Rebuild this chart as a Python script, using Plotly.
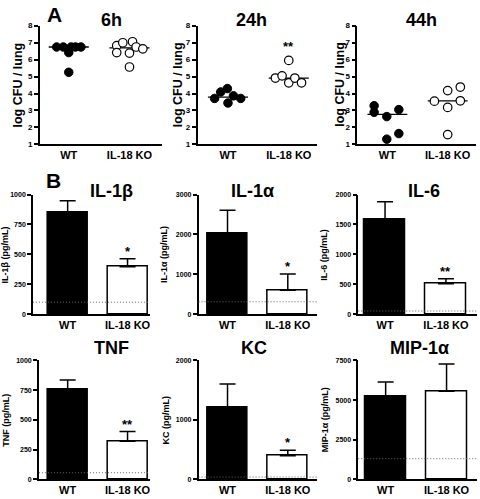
import numpy as np
import plotly.graph_objects as go

W, H = 480, 499
FONT = "Liberation Sans, Arial, sans-serif"

# ---------------- Data: Panel A (log CFU / lung) ----------------
groups = ["WT", "IL-18 KO"]
timepoints = ["6h", "24h", "44h"]

cfu_wt_6h = [6.74, 6.74, 6.74, 6.74, 6.74, 6.41, 5.25]
cfu_ko_6h = [6.82, 6.99, 7.05, 6.74, 6.63, 6.41, 6.38, 5.56]
cfu_wt_24h = [3.71, 4.09, 4.29, 3.44, 3.86, 3.71]
cfu_ko_24h = [4.91, 5.04, 4.63, 4.91, 4.63, 5.95]
cfu_wt_44h = [3.28, 2.89, 2.64, 3.05, 1.64, 1.31]
cfu_ko_44h = [3.55, 4.17, 4.38, 3.18, 3.57, 1.58]
sig_A = ["", "**", ""]

# horizontal scatter offsets (layout only)
jit_wt_6h = [-0.2, -0.09, 0.04, 0.11, 0.2, 0.0, 0.0]
jit_ko_6h = [-0.21, -0.11, 0.05, 0.11, 0.22, -0.21, 0.0, 0.0]
jit_wt_24h = [-0.22, -0.12, -0.01, 0.0, 0.09, 0.21]
jit_ko_24h = [-0.22, -0.11, 0.0, 0.1, 0.21, 0.0]
jit_wt_44h = [-0.22, -0.22, -0.01, 0.19, 0.19, -0.01]
jit_ko_44h = [-0.22, 0.0, 0.21, 0.0, 0.21, 0.0]

# ---------------- Data: Panel B (cytokines, pg/mL) ----------------
cytokines = ["IL-1β", "IL-1α", "IL-6", "TNF", "KC", "MIP-1α"]
ytitles = ["IL-1β (pg/mL)", "IL-1α (pg/mL)", "IL-6 (pg/mL)",
           "TNF (pg/mL)", "KC (pg/mL)", "MIP-1α (pg/mL)"]
mean_wt = [847, 2017, 1578, 755, 1209, 5254]
mean_ko = [397, 603, 510, 319, 396, 5563]
sem_wt = [101, 586, 301, 80, 395, 886]
sem_ko = [66, 405, 82, 82, 93, 1710]
detect_limit = [101, 314, 55, 55, 38, 1298]
sig_B = ["*", "*", "**", "**", "*", ""]
ymax_B = [1000, 3000, 2000, 1000, 2000, 7500]
tickvals_B = [[0, 250, 500, 750, 1000], [0, 1000, 2000, 3000],
              [0, 500, 1000, 1500, 2000], [0, 250, 500, 750, 1000],
              [0, 1000, 2000], [0, 2500, 5000, 7500]]

# ---------------- Layout geometry (pixels) ----------------
def px_x(a, b):
    return [a / W, b / W]

def px_y(top, bottom):
    return [1 - bottom / H, 1 - top / H]

A_dom_x = [px_x(40, 162), px_x(198, 318), px_x(358, 477)]
A_rng_x = [[0.525, 2.53], [0.5, 2.47], [0.5, 2.47]]
A_dom_y = px_y(22, 143)
A_title_x = [112, 252, 422]
A_ytitle_x = [18, 178, 340]

B_dom_x = [px_x(33, 150), px_x(199, 318), px_x(359, 478),
           px_x(39, 150), px_x(199, 318), px_x(359, 478)]
B_rng_x = [[0.42, 2.37], [0.52, 2.49], [0.56, 2.51],
           [0.52, 2.37], [0.52, 2.49], [0.55, 2.5]]
B_dom_y = [px_y(194, 316)] * 3 + [px_y(363, 484)] * 3
B_title_pos = [(112, 190), (253, 190), (425, 190), (112, 350), (255, 350), (420, 350)]
B_ytitle_x = [5, 165, 325, 6, 166, 326]

fig = go.Figure()
annotations = []
shapes = []

tickfont_small = dict(family=FONT, size=8, color="black", weight="bold")
xtickfont = dict(family=FONT, size=11, color="black", weight="bold")


def axis_common():
    return dict(showline=True, linecolor="black", linewidth=1.5,
                showgrid=False, zeroline=False, mirror=False)


def label(x, y, text, size, angle=0):
    return dict(x=x / W, y=1 - y / H, xref="paper", yref="paper", text=text,
                showarrow=False, xanchor="center", yanchor="middle", textangle=angle,
                font=dict(family=FONT, size=size, color="black", weight="bold"))


layout_axes = {}

# ---------------- Panel A ----------------
A_wt = [cfu_wt_6h, cfu_wt_24h, cfu_wt_44h]
A_ko = [cfu_ko_6h, cfu_ko_24h, cfu_ko_44h]
A_jwt = [jit_wt_6h, jit_wt_24h, jit_wt_44h]
A_jko = [jit_ko_6h, jit_ko_24h, jit_ko_44h]

for i in range(3):
    n = i + 1
    xa = "x" if n == 1 else f"x{n}"
    ya = "y" if n == 1 else f"y{n}"
    wt, ko = A_wt[i], A_ko[i]
    for gx, vals in ((1, wt), (2, ko)):
        m = float(np.median(vals))
        fig.add_trace(go.Scatter(x=[gx - 0.33, gx + 0.33], y=[m, m], mode="lines",
                                 line=dict(color="black", width=1.3),
                                 xaxis=xa, yaxis=ya, showlegend=False, hoverinfo="skip"))
    fig.add_trace(go.Scatter(x=[1 + j for j in A_jwt[i]], y=wt, mode="markers",
                             marker=dict(size=8.5, color="black",
                                         line=dict(color="black", width=1)),
                             xaxis=xa, yaxis=ya, showlegend=False, cliponaxis=False))
    fig.add_trace(go.Scatter(x=[2 + j for j in A_jko[i]], y=ko, mode="markers",
                             marker=dict(size=8.5, color="white",
                                         line=dict(color="black", width=1.2)),
                             xaxis=xa, yaxis=ya, showlegend=False, cliponaxis=False))
    xk = "xaxis" if n == 1 else f"xaxis{n}"
    yk = "yaxis" if n == 1 else f"yaxis{n}"
    layout_axes[xk] = dict(axis_common(), domain=A_dom_x[i], range=A_rng_x[i],
                           anchor=ya, tickvals=[1, 2], ticktext=groups,
                           ticks="", tickfont=xtickfont)
    layout_axes[yk] = dict(axis_common(), domain=A_dom_y, range=[1, 8],
                           anchor=xa, tickvals=list(range(1, 9)), ticks="outside",
                           ticklen=4, tickwidth=1.5, tickcolor="black",
                           tickfont=tickfont_small)
    annotations.append(label(A_title_x[i], 16, timepoints[i], 18))
    annotations.append(label(A_ytitle_x[i], 82, "log CFU / lung", 12.5, -90))
    if sig_A[i]:
        top = max(ko)
        annotations.append(dict(x=2, y=top + 0.25, xref=xa, yref=ya, text=sig_A[i],
                                showarrow=False, yanchor="bottom", xanchor="center",
                                font=dict(family=FONT, size=13, color="black", weight="bold")))

# ---------------- Panel B ----------------
for k in range(6):
    n = k + 4
    xa, ya = f"x{n}", f"y{n}"
    fig.add_trace(go.Bar(x=[1], y=[mean_wt[k]], width=0.67,
                         marker=dict(color="black", line=dict(color="black", width=1.5)),
                         error_y=dict(type="data", array=[sem_wt[k]], arrayminus=[0],
                                      symmetric=False, color="black", thickness=1.5, width=8),
                         xaxis=xa, yaxis=ya, showlegend=False))
    fig.add_trace(go.Bar(x=[2], y=[mean_ko[k]], width=0.67,
                         marker=dict(color="white", line=dict(color="black", width=1.5)),
                         error_y=dict(type="data", array=[sem_ko[k]], arrayminus=[0],
                                      symmetric=False, color="black", thickness=1.5, width=8),
                         xaxis=xa, yaxis=ya, showlegend=False))
    layout_axes[f"xaxis{n}"] = dict(axis_common(), domain=B_dom_x[k], range=B_rng_x[k],
                                    anchor=ya, tickvals=[1, 2], ticktext=groups,
                                    ticks="", tickfont=xtickfont)
    layout_axes[f"yaxis{n}"] = dict(axis_common(), domain=B_dom_y[k], range=[0, ymax_B[k]],
                                    anchor=xa, tickvals=tickvals_B[k], ticks="outside",
                                    ticklen=4, tickwidth=1.5, tickcolor="black",
                                    tickfont=dict(family=FONT, size=7, color="black",
                                                  weight="bold"))
    shapes.append(dict(type="line", xref=f"{xa} domain", yref=ya, x0=0, x1=1,
                       y0=detect_limit[k], y1=detect_limit[k],
                       line=dict(color="#666666", width=1, dash="1px,2px"), layer="above"))
    tx, ty = B_title_pos[k]
    annotations.append(label(tx, ty, cytokines[k], 18))
    ymid_px = H * (1 - (B_dom_y[k][0] + B_dom_y[k][1]) / 2)
    annotations.append(label(B_ytitle_x[k], ymid_px, ytitles[k], 9, -90))
    if sig_B[k]:
        annotations.append(dict(x=2, y=mean_ko[k] + sem_ko[k], xref=xa, yref=ya,
                                text=sig_B[k], showarrow=False, yanchor="bottom",
                                xanchor="center", yshift=-2,
                                font=dict(family=FONT, size=13, color="black", weight="bold")))

# panel letters
annotations.append(label(55, 11, "A", 21))
annotations.append(label(54, 180, "B", 21))

fig.update_layout(width=W, height=H, margin=dict(l=0, r=0, t=0, b=0),
                  paper_bgcolor="white", plot_bgcolor="white",
                  annotations=annotations, shapes=shapes, bargap=0,
                  **layout_axes)

fig.write_html("out.html", config={"displayModeBar": False},
               post_script="document.body.style.margin='0';document.body.style.overflow='hidden';")
